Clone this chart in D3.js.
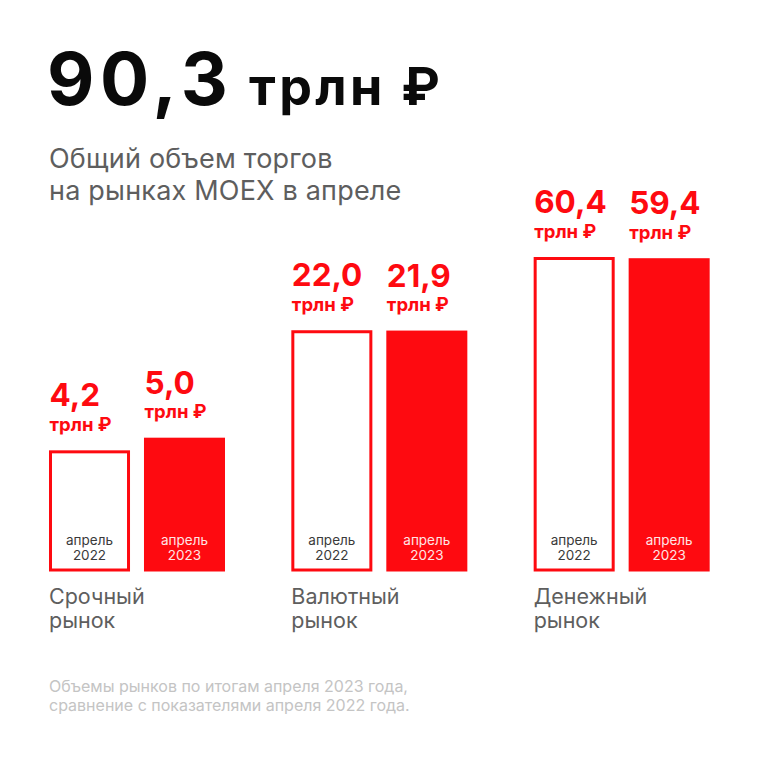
<!DOCTYPE html>
<html><head><meta charset="utf-8">
<script src="https://cdn.jsdelivr.net/npm/d3@7"></script>
<style>
html,body{margin:0;padding:0;background:#fff;}
svg{display:block;font-family:Inter,"Noto Sans",sans-serif;}
</style></head>
<body>
<svg id="c" width="758" height="758"></svg>
<script>
const totalValue = 90.3;
const unit = "трлн ₽";
const subtitleLines = ["Общий объем торгов", "на рынках MOEX в апреле"];
const categories = [["Срочный", "рынок"], ["Валютный", "рынок"], ["Денежный", "рынок"]];
const years = ["2022", "2023"];
const values2022 = [4.2, 22.0, 60.4];
const values2023 = [5.0, 21.9, 59.4];
const barMonth = "апрель";
const footnoteLines = ["Объемы рынков по итогам апреля 2023 года,", "сравнение с показателями апреля 2022 года."];

const RED = "#fe0a10";
const svg = d3.select("#c");
const fmt = v => d3.format(".1f")(v).replace(".", ",");

// Title
svg.append("text").attr("x", 47).attr("y", 105).attr("fill", "#0a0a0a").attr("font-weight", 700)
  .attr("font-size", 73).attr("letter-spacing", 5.5).text(fmt(totalValue));
svg.append("text").attr("x", 249).attr("y", 105).attr("fill", "#0a0a0a").attr("font-weight", 700)
  .attr("font-size", 52).attr("letter-spacing", 3.3).text(unit);

svg.selectAll("text.sub").data(subtitleLines).join("text").attr("class", "sub")
  .attr("x", 49).attr("y", (d, i) => 168 + i * 32)
  .attr("font-size", 27).attr("letter-spacing", 0.2).attr("fill", "#5e5e5e").text(d => d);

// Scales
const catKeys = categories.map(d => d.join(" "));
const x0 = d3.scaleBand().domain(catKeys).range([49, 776]).paddingInner(0).paddingOuter(0);
const x1 = d3.scaleBand().domain(years).range([0, 176]).paddingInner(0.147).paddingOuter(0);
const y = d3.scaleLog().domain([0.79, 60.4]).range([571.5, 257]);

const data = [];
catKeys.forEach((c, i) => {
  data.push({cat: c, year: "2022", value: values2022[i]});
  data.push({cat: c, year: "2023", value: values2023[i]});
});

const g = svg.append("g");
const bw = x1.bandwidth();
const sw = 3;

g.selectAll("rect.bar").data(data).join("rect").attr("class", "bar")
  .attr("x", d => x0(d.cat) + x1(d.year) + (d.year === "2022" ? sw / 2 : 0))
  .attr("y", d => y(d.value) + (d.year === "2022" ? sw / 2 : 0))
  .attr("width", d => bw - (d.year === "2022" ? sw : 0))
  .attr("height", d => y.range()[0] - y(d.value) - (d.year === "2022" ? sw : 0))
  .attr("fill", d => d.year === "2022" ? "#fff" : RED)
  .attr("stroke", d => d.year === "2022" ? RED : "none")
  .attr("stroke-width", sw);

// value labels
g.selectAll("text.val").data(data).join("text").attr("class", "val")
  .attr("x", d => x0(d.cat) + x1(d.year) + 0.5)
  .attr("y", d => y(d.value) - 44)
  .attr("font-size", 31.5).attr("font-weight", 700).attr("fill", RED)
  .text(d => fmt(d.value));
g.selectAll("text.unit").data(data).join("text").attr("class", "unit")
  .attr("x", d => x0(d.cat) + x1(d.year) + 0.5)
  .attr("y", d => y(d.value) - 19.5)
  .attr("font-size", 18.5).attr("font-weight", 700).attr("fill", RED)
  .text(unit);

// in-bar labels
data.forEach(d => {
  const cx = x0(d.cat) + x1(d.year) + bw / 2;
  const col = d.year === "2022" ? "#3a3a3a" : "#ffe5e5";
  [barMonth, d.year].forEach((s, k) => {
    g.append("text").attr("x", cx).attr("y", 544.5 + k * 15.5).attr("text-anchor", "middle")
      .attr("font-size", 13.5).attr("fill", col).text(s);
  });
});

// category labels
categories.forEach((lines, i) => {
  lines.forEach((s, k) => {
    svg.append("text").attr("x", x0(catKeys[i])).attr("y", 604 + k * 23.5)
      .attr("font-size", 21.5).attr("fill", "#5e5e5e").text(s);
  });
});

// footnote
svg.selectAll("text.foot").data(footnoteLines).join("text").attr("class", "foot")
  .attr("x", 49).attr("y", (d, i) => 692 + i * 19)
  .attr("font-size", 16).attr("fill", "#c4c4c4").text(d => d);
</script>
</body></html>
